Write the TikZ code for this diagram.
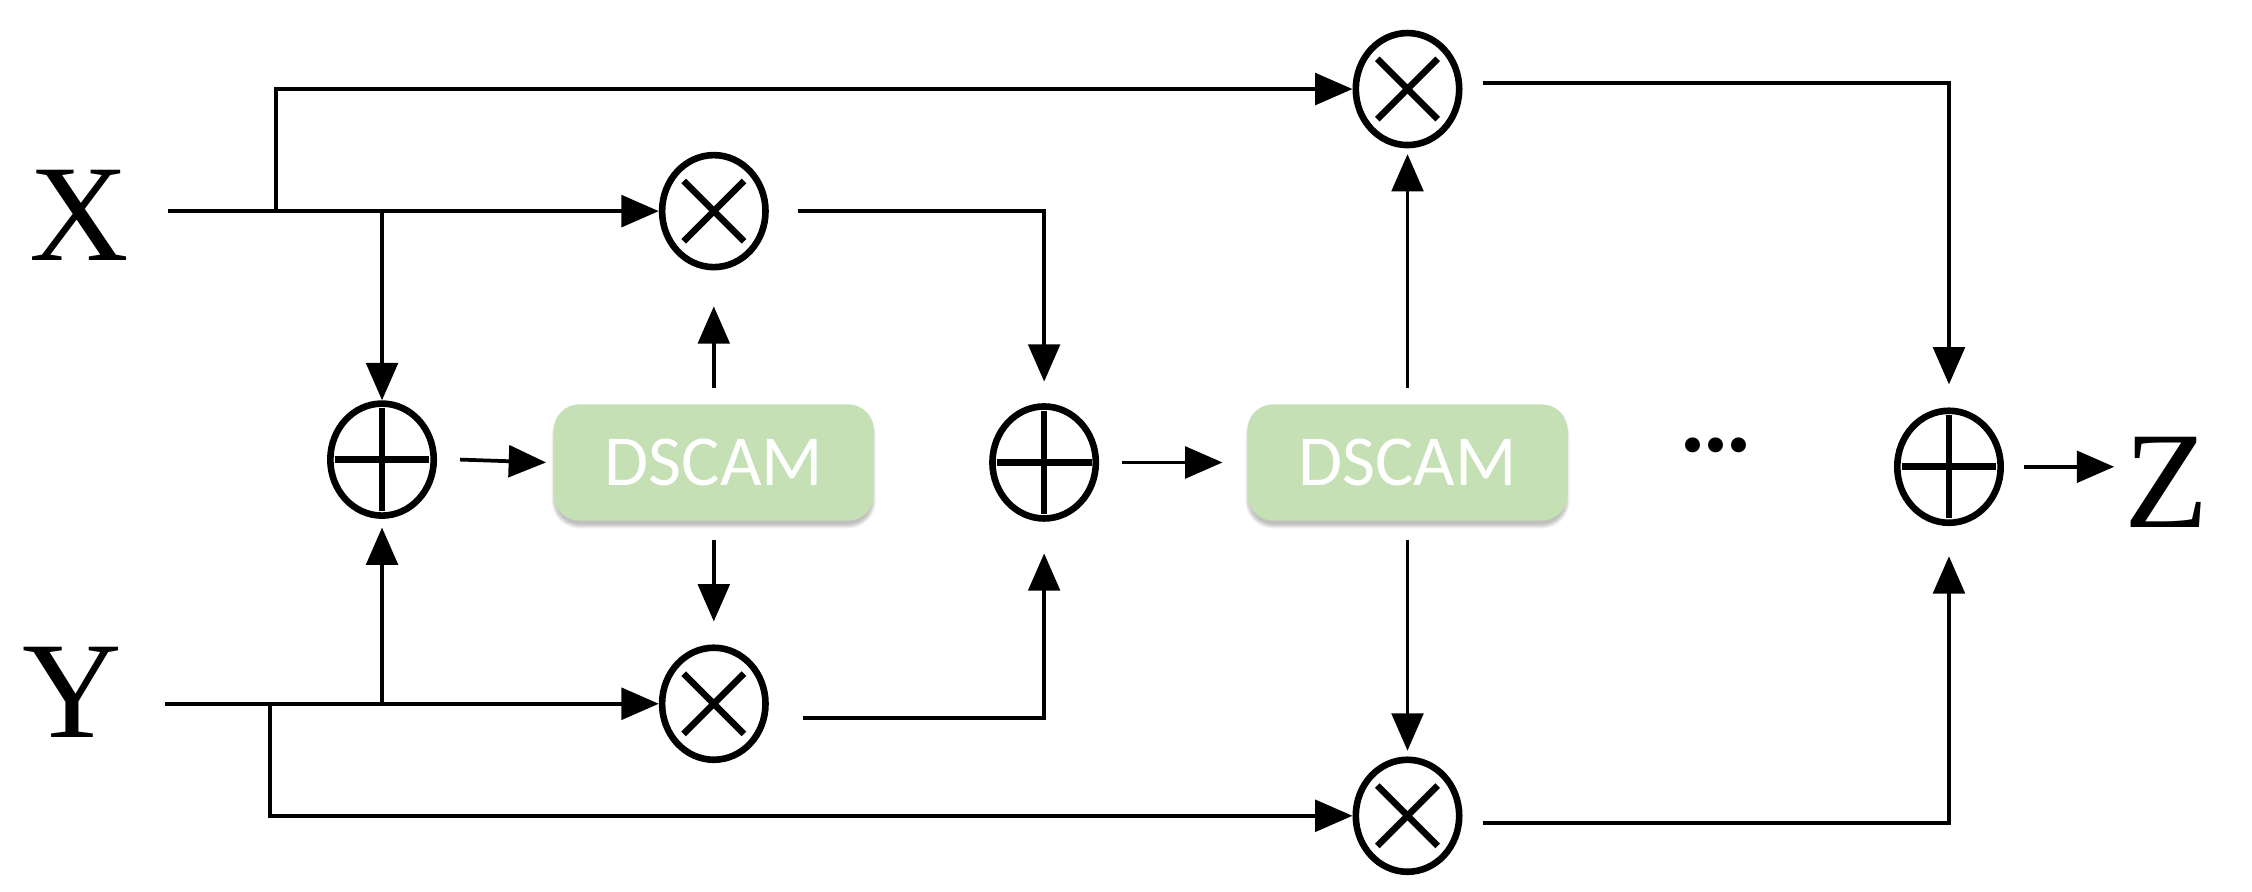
\documentclass[tikz,border=0pt]{standalone}
\usepackage{fontspec}
\setmainfont{Liberation Serif}
\newfontfamily\dscfont{Carlito}
\usetikzlibrary{arrows.meta,shapes.geometric,shadows.blur}
\begin{document}
\begin{tikzpicture}[x=1pt,y=-1pt,
 line width=2.6pt,
 arr/.style={-{Triangle[length=26pt,width=22pt]}},
 op/.style={ellipse,draw,line width=4.6pt,minimum width=72pt,minimum height=78pt,inner sep=0pt},
 mul/.style={op,path picture={\draw[line width=4.6pt] ([shift={(-21pt,-21pt)}]path picture bounding box.center) -- ([shift={(21pt,21pt)}]path picture bounding box.center) ([shift={(-21pt,21pt)}]path picture bounding box.center) -- ([shift={(21pt,-21pt)}]path picture bounding box.center);}},
 add/.style={op,path picture={\draw[line width=4.6pt] ([xshift=-33pt]path picture bounding box.center) -- ([xshift=33pt]path picture bounding box.center) ([yshift=-36pt]path picture bounding box.center) -- ([yshift=36pt]path picture bounding box.center);}},
 dscam/.style={rounded corners=18pt,minimum width=223pt,minimum height=81pt,font=\dscfont\fontsize{50}{50}\selectfont,text=white,blur shadow={shadow blur steps=8,shadow xshift=0pt,shadow yshift=-4pt,shadow opacity=25}},
 lab/.style={font=\fontsize{96}{96}\selectfont,inner sep=0pt}]
\useasboundingbox (0,0) rectangle (1568,621);
\definecolor{dsg}{RGB}{197,224,180}
\node[lab] (X) at (55,150) {X};
\node[lab] (Y) at (50,482) {Y};
\node[lab,anchor=west] (Z) at (1478,336) {Z};
\node[mul] (mT) at (980,62) {};
\node[mul] (m1) at (497,147) {};
\node[mul] (m2) at (497,490) {};
\node[mul] (mB) at (980,568) {};
\node[add] (a1) at (266,320) {};
\node[add] (a2) at (727,322) {};
\node[add] (a3) at (1357,325) {};
\node[dscam,fill=dsg] (d1) at (497,322) {DSCAM};
\node[dscam,fill=dsg] (d2) at (980,322) {DSCAM};
\node[font=\fontsize{64}{64}\selectfont\bfseries] (dots) at (1195,310) {...};
\coordinate (xs) at (117,147);
\coordinate (ys) at (115,490);
\draw[arr] (xs) -- (m1.west);
\draw[arr] (192,147) |- (mT.west);
\draw[arr] (xs -| a1) -- (a1.north);
\draw[arr] (ys) -- (m2.west);
\draw[arr] (ys -| a1) -- ([yshift=-6pt]a1.south);
\draw[arr] (188,490) |- (mB.west);
\draw[arr] ([xshift=20pt]m1.east) -| ([yshift=15pt]a2.north);
\draw[arr] ([xshift=24pt,yshift=-10pt]m2.east) -| ([yshift=-22pt]a2.south);
\draw[arr] ([xshift=16pt]a1.east) -- ([xshift=-4pt]d1.west);
\draw[arr] ([xshift=16pt]a2.east) -- ([xshift=-16pt]d2.west);
\draw[arr] ([yshift=10pt]d1.north) -- ([yshift=-25pt]m1.south);
\draw[arr] ([yshift=-12pt]d1.south) -- ([yshift=16pt]m2.north);
\draw[arr] ([yshift=10pt]d2.north) -- ([yshift=-4pt]mT.south);
\draw[arr] ([yshift=-12pt]d2.south) -- ([yshift=4pt]mB.north);
\draw[arr] ([xshift=14pt,yshift=4pt]mT.east) -| ([yshift=16pt]a3.north);
\draw[arr] ([xshift=14pt,yshift=-5pt]mB.east) -| ([yshift=-21pt]a3.south);
\draw[arr] ([xshift=14pt]a3.east) -- ([xshift=-6pt]a3.east -| Z.west);
\end{tikzpicture}
\end{document}
